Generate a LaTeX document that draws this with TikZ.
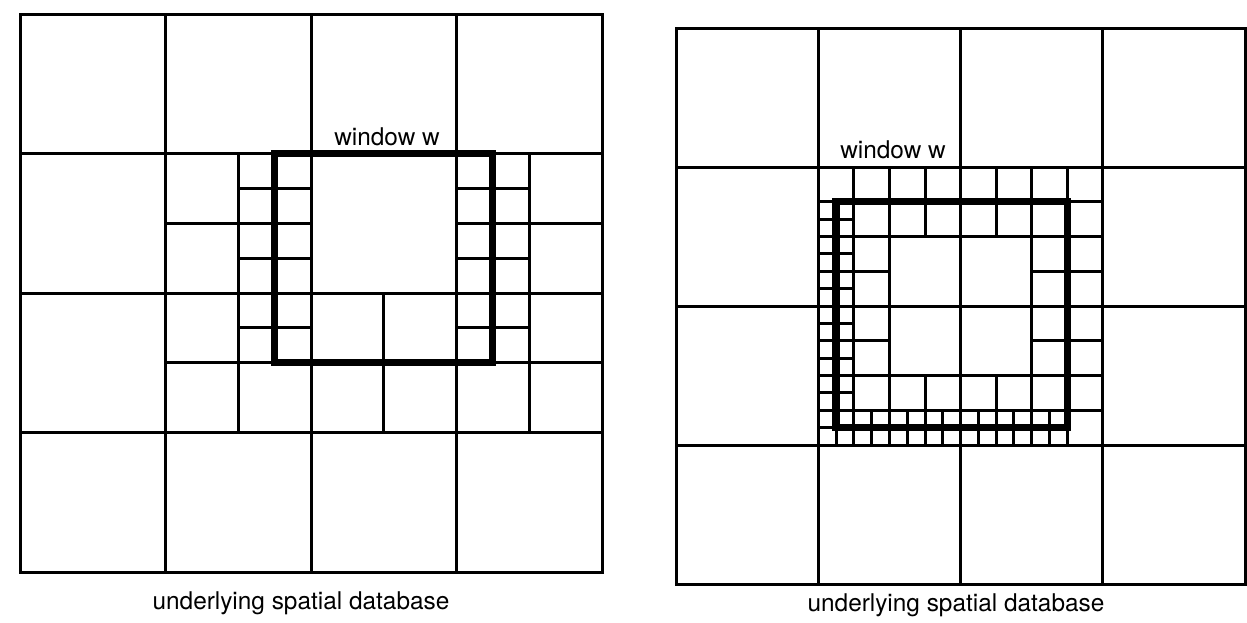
\documentclass[tikz,border=0pt]{standalone}
\usepackage{fontspec}
\setmainfont{TeX Gyre Heros}
\begin{document}
\begin{tikzpicture}[x=0.5pt, y=-0.5pt,
  cell/.style={line width=1.5pt},
  window/.style={line width=3.6pt, line join=miter},
  lbl/.style={inner sep=0pt, font=\fontsize{12.2}{14}\selectfont}]
  \useasboundingbox (0,0) rectangle (1247,622);
  % Left quadtree (window edges on level-3 boundaries)
  \begin{scope}[shift={(20,14)}, x=72.75pt, y=-69.75pt]
    \draw[cell] (0,0) rectangle (4,4);
    \foreach \k in {1,2,3} {
      \draw[cell] (\k,0) -- (\k,4);
      \draw[cell] (0,\k) -- (4,\k);
    }
    % second level
    \foreach \u in {1.5,3.5} \draw[cell] (\u,1) -- (\u,3);
    \draw[cell] (2.5,2) -- (2.5,3);
    \draw[cell] (1,1.5) -- (2,1.5) (3,1.5) -- (4,1.5);
    \draw[cell] (1,2.5) -- (4,2.5);
    % third level along the left and right sides
    \foreach \u in {1.5,3} {
      \draw[cell] (\u+0.25,1) -- (\u+0.25,2.5);
      \foreach \v in {1.25,1.75,2.25} \draw[cell] (\u,\v) -- (\u+0.5,\v);
    }
    \draw[window] (1.75,1) rectangle (3.25,2.5);
  \end{scope}
  % Right quadtree (window cuts through level-3 cells)
  \begin{scope}[shift={(676,28)}, x=71.15pt, y=-69.5pt]
    \draw[cell] (0,0) rectangle (4,4);
    \foreach \k in {1,2,3} {
      \draw[cell] (\k,0) -- (\k,4);
      \draw[cell] (0,\k) -- (4,\k);
    }
    % second and third level round the middle block
    \foreach \k in {1.25,1.5,2.5,2.75} {
      \draw[cell] (\k,1) -- (\k,3);
      \draw[cell] (1,\k) -- (3,\k);
    }
    \foreach \k in {1.75,2.25} {
      \draw[cell] (\k,1) -- (\k,1.5) (\k,2.5) -- (\k,3);
      \draw[cell] (1,\k) -- (1.5,\k) (2.5,\k) -- (3,\k);
    }
    % fourth level under the left and bottom sides
    \draw[cell] (1.125,1.25) -- (1.125,3) (1,2.875) -- (2.75,2.875);
    \foreach \k in {1.375,1.625,1.875,2.125,2.375,2.625} {
      \draw[cell] (1,\k) -- (1.25,\k);
      \draw[cell] (\k,2.75) -- (\k,3);
    }
    \draw[window] (1.125,1.25) rectangle (2.75,2.875);
  \end{scope}
  % labels
  \node[lbl] (winL) at (387,137) {window w};
  \node[lbl] (winR) at (893,150) {window w};
  \node[lbl] (dbL) at (301,603) {underlying spatial database};
  \node[lbl] (dbR) at (956,605) {underlying spatial database};
\end{tikzpicture}
\end{document}
